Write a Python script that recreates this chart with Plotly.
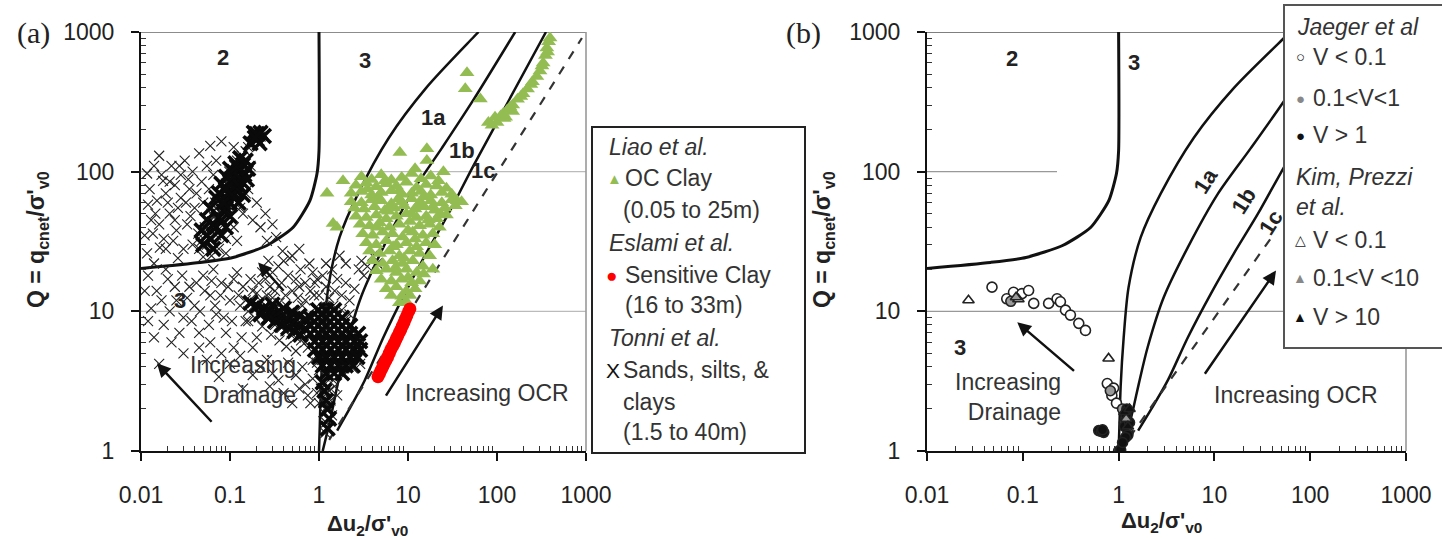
import math
import plotly.graph_objects as go

W, H = 1442, 539
FONT = "Liberation Sans, Arial, sans-serif"

# ---------------- axis ticks ----------------
X_TICK_TEXT = ["0.01", "0.1", "1", "10", "100", "1000"]
Y_TICK_TEXT = ["1", "10", "100", "1000"]

# ---------------- zone boundaries (du2/s'v0 , Q) ----------------
ZONE23_DU = [0.01, 0.046, 0.108, 0.26, 0.51, 0.79, 0.95, 1.0, 1.0]
ZONE23_Q = [20.3, 22.4, 24.3, 29.6, 39.8, 62, 97, 141, 1000]
C1A_DU = [1.0, 1.02, 1.05, 1.13, 1.27, 1.7, 2.75, 6.1, 16, 53.4, 62]
C1A_Q = [1.0, 1.5, 2.87, 6.5, 14.8, 33.8, 69.6, 175, 398, 906, 1000]
C1B_DU = [1.1, 1.25, 1.42, 1.62, 2.01, 2.96, 5.28, 10.9, 24.1, 53.4, 160]
C1B_Q = [1.0, 1.4, 2.0, 3.0, 5.53, 12.6, 28.7, 69.6, 148, 321, 1000]
C1C_DU = [1.6, 2.16, 3.26, 5.28, 9.2, 16, 28.5, 55, 355]
C1C_Q = [1.4, 1.96, 3.2, 6.5, 13.4, 26, 50, 112, 1000]
DASH_A_DU = [1.3, 900]
DASH_A_Q = [1.2, 906]
DASH_B_DU = [1.3, 42]
DASH_B_Q = [1.25, 36]

# ---------------- panel (a) data ----------------
LIAO_CLOUD = [
    (3.0, 92), (3.9, 88), (5.0, 95), (6.5, 87), (8.5, 91), (11, 97), (14, 89), (18, 93), (22, 86),
    (2.6, 80), (3.4, 83), (4.4, 78), (5.7, 82), (7.4, 79), (9.6, 84), (12.5, 77), (16, 81), (21, 79), (27, 76),
    (2.3, 70), (3.0, 72), (3.9, 68), (5.0, 71), (6.5, 73), (8.5, 69), (11, 70), (14, 72), (18, 68), (24, 71), (31, 69),
    (2.3, 61), (3.0, 60), (3.9, 63), (5.0, 62), (6.5, 59), (8.5, 61), (11, 64), (14, 60), (18, 62), (24, 60), (31, 63), (40, 61),
    (2.5, 55), (3.2, 54), (4.2, 56), (5.5, 53), (7, 55), (9, 57), (12, 54), (15, 56), (20, 53), (26, 55), (34, 57),
    (2.6, 48), (3.4, 47), (4.4, 49), (5.7, 46), (7.4, 48), (9.6, 50), (12.5, 47), (16, 48), (21, 46), (27, 49),
    (2.9, 42), (3.7, 41), (4.8, 43), (6.2, 40), (8, 42), (10.5, 44), (13.5, 41), (17.5, 42), (22.5, 40),
    (3.1, 36), (4.0, 35), (5.2, 37), (6.7, 36), (8.7, 34), (11.3, 37), (14.7, 35), (19, 36),
    (3.4, 31), (4.4, 30), (5.7, 32), (7.4, 30), (9.6, 31), (12.5, 29), (16, 31), (20, 30),
    (3.7, 27), (4.8, 26), (6.2, 27), (8, 25), (10.5, 27), (13.5, 26), (17.5, 25),
    (4.0, 23), (5.2, 22), (6.7, 23), (8.7, 22), (11.3, 23), (14.7, 21),
    (4.4, 19.5), (5.7, 20), (7.4, 19), (9.6, 20), (12.5, 19), (15, 18.5), (19, 20),
    (5.0, 17), (6.5, 16.5), (8.5, 17), (11, 16), (13.5, 16.5),
    (5.7, 14.5), (7.4, 15), (9.6, 14), (12, 14.5),
    (6.5, 13), (8.5, 12.8), (10.5, 13), (8, 11.5), (9.5, 11.8),
    (3.5, 75), (4.6, 66), (6.0, 52), (7.8, 64), (10, 38), (13, 58), (17, 45), (12, 33), (9, 24), (6.8, 29),
    (4.5, 40), (5.5, 86), (8, 73), (11, 50), (15, 66), (19, 56), (23, 50), (7.2, 20.5), (10, 17.5),
]
LIAO_SCATTER = [
    (8.1, 137), (16.3, 146), (16.3, 120), (46, 510), (44, 392), (65, 332), (1.86, 86), (1.23, 70),
    (1.44, 42.5), (1.59, 40), (35.6, 62), (25, 100), (12, 105),
]
LIAO_BAND = [
    (80, 225), (88, 215), (95, 245), (100, 225), (110, 250), (117, 260), (120, 240), (125, 245), (130, 275),
    (140, 290), (150, 270), (150, 300), (170, 330), (185, 345), (196, 361), (220, 390), (240, 420), (250, 440),
    (280, 480), (304, 526), (320, 570), (330, 600), (350, 680), (363, 769), (370, 720), (380, 850), (394, 906),
]
ESLAMI = [
    (4.6, 3.4), (4.8, 3.6), (5.0, 3.8), (5.2, 4.0), (5.4, 4.2), (5.65, 4.45), (5.9, 4.7), (6.15, 5.0),
    (6.4, 5.3), (6.7, 5.6), (7.0, 5.9), (7.3, 6.25), (7.6, 6.6), (7.95, 7.0), (8.3, 7.4), (8.65, 7.85),
    (9.0, 8.3), (9.35, 8.8), (9.7, 9.3), (10.1, 9.9), (10.5, 10.4),
]
TONNI_ZONE2 = [
    (0.0117, 97), (0.0151, 62), (0.0177, 86), (0.031, 120), (0.06, 153), (0.021, 50), (0.0136, 36),
    (0.0163, 28.6), (0.0117, 26), (0.013, 45), (0.019, 70), (0.025, 38), (0.028, 95), (0.035, 75),
    (0.022, 110), (0.04, 55), (0.033, 42), (0.045, 135), (0.08, 165), (0.11, 150), (0.026, 24),
    (0.038, 30), (0.05, 24.5), (0.15, 140), (0.17, 110), (0.16, 75), (0.2, 60), (0.26, 32), (0.39, 27),
    (0.47, 24), (0.3, 42), (0.22, 40), (0.014, 22), (0.012, 58), (0.018, 33), (0.028, 65), (0.016, 130),
    (0.024, 80),
    (0.011, 35), (0.0125, 75), (0.014, 110), (0.0145, 50), (0.016, 42), (0.017, 95), (0.019, 28),
    (0.02, 60), (0.021, 85), (0.023, 32), (0.024, 45), (0.026, 55), (0.027, 110), (0.03, 28), (0.032, 60),
    (0.034, 88), (0.036, 48), (0.038, 100), (0.042, 70), (0.044, 36), (0.048, 85), (0.05, 60), (0.055, 110),
    (0.058, 75), (0.065, 95), (0.07, 120), (0.062, 25), (0.075, 28), (0.14, 50), (0.18, 45), (0.25, 50),
    (0.33, 34), (0.12, 32), (0.09, 26),
]
TONNI_STREAK = [
    (0.045, 28), (0.048, 32), (0.05, 36), (0.055, 30), (0.052, 40), (0.058, 44), (0.06, 38), (0.062, 50),
    (0.066, 47), (0.07, 55), (0.068, 60), (0.075, 52), (0.078, 64), (0.08, 70), (0.085, 58), (0.088, 75),
    (0.09, 82), (0.095, 68), (0.1, 90), (0.098, 100), (0.105, 85), (0.11, 95), (0.112, 110), (0.118, 105),
    (0.12, 120), (0.125, 92), (0.13, 115), (0.115, 78), (0.14, 100), (0.135, 130), (0.17, 165), (0.18, 180),
    (0.19, 172), (0.2, 185), (0.21, 195), (0.19, 195), (0.22, 178), (0.23, 190), (0.175, 155), (0.16, 150),
    (0.07, 35), (0.085, 42), (0.1, 48), (0.12, 60), (0.15, 70), (0.13, 55), (0.09, 33), (0.11, 40),
]
TONNI_LOW = [
    (0.012, 18), (0.015, 14), (0.02, 17), (0.013, 10.5), (0.018, 8), (0.025, 12), (0.03, 9), (0.022, 6),
    (0.035, 15), (0.04, 11), (0.045, 7), (0.03, 5), (0.05, 18), (0.06, 13), (0.07, 9.5), (0.055, 4.5),
    (0.08, 16), (0.09, 7), (0.1, 12), (0.065, 20), (0.12, 19), (0.14, 15), (0.16, 8.5), (0.11, 5.5),
    (0.2, 6.5), (0.25, 17), (0.3, 19), (0.22, 4), (0.35, 3.2), (0.4, 2.6), (0.5, 2.2), (0.55, 3.5),
    (0.6, 2.8), (0.45, 4.3), (0.28, 2.9), (0.016, 4.2), (0.075, 3.4), (0.14, 2.8),
    (0.011, 14), (0.012, 8.5), (0.014, 6.5), (0.017, 12), (0.019, 20), (0.021, 10), (0.024, 15), (0.027, 7),
    (0.029, 18), (0.033, 12.5), (0.037, 8.5), (0.042, 16), (0.046, 10), (0.052, 14), (0.058, 8),
    (0.062, 16.5), (0.068, 11), (0.078, 13), (0.085, 9), (0.095, 15), (0.105, 8.5), (0.11, 17), (0.125, 13),
    (0.135, 6.5), (0.17, 17), (0.18, 14), (0.21, 16), (0.23, 19), (0.28, 15), (0.32, 14), (0.38, 16),
    (0.42, 13), (0.5, 14), (0.58, 12.5), (0.045, 5.5), (0.06, 6), (0.08, 5), (0.1, 4.2), (0.13, 4.8),
    (0.18, 5.5), (0.26, 4.5), (0.3, 3.6), (0.18, 3.5), (0.65, 4), (0.7, 3), (0.75, 2.5), (0.8, 2.2),
    (0.35, 21), (0.45, 18), (0.55, 17), (0.62, 20), (0.7, 16), (0.78, 22), (0.5, 25), (0.4, 23),
    (0.27, 23), (0.6, 28), (0.88, 13), (0.95, 17),
]
TONNI_BAND = [
    (0.13, 11), (0.15, 12), (0.16, 10), (0.18, 11.5), (0.2, 10.5), (0.19, 9), (0.22, 12), (0.24, 9.8),
    (0.25, 11), (0.27, 8.7), (0.28, 10), (0.3, 9.3), (0.32, 8), (0.33, 10.5), (0.35, 8.8), (0.38, 7.6),
    (0.4, 9), (0.42, 7.2), (0.45, 8.3), (0.48, 6.8), (0.5, 7.7), (0.52, 9.2), (0.55, 6.5), (0.58, 7.5),
    (0.6, 8.4), (0.63, 6.2), (0.66, 7), (0.7, 6), (0.2, 13.5), (0.26, 13), (0.3, 12.5), (0.36, 11.5),
    (0.44, 10.8), (0.5, 10.2), (0.23, 7.8), (0.29, 6.8), (0.36, 6.2), (0.43, 5.6), (0.15, 8.5), (0.55, 5.2),
]
TONNI_CORE = [
    (0.75, 5.5), (0.8, 7), (0.85, 4.5), (0.9, 6), (0.95, 8), (1.0, 5), (1.0, 3.8), (1.05, 6.8), (1.1, 4.2),
    (1.1, 9), (1.15, 5.8), (1.2, 7.5), (1.25, 3.5), (1.3, 4.8), (1.3, 6.3), (1.35, 8.5), (1.4, 5.4),
    (1.45, 3.2), (1.5, 7), (1.5, 4.3), (1.6, 6), (1.6, 9.5), (1.65, 3.8), (1.7, 5.2), (1.75, 7.8),
    (1.8, 4.6), (1.85, 6.5), (1.9, 3.5), (2.0, 5.8), (2.0, 8.5), (2.1, 4.2), (2.2, 6.8), (2.3, 5.3),
    (2.4, 3.9), (2.5, 6.2), (2.6, 4.8), (2.8, 5.6), (0.9, 10.5), (1.2, 10.8), (1.45, 11), (0.85, 3.3),
    (1.15, 3), (2.2, 9.5), (1.8, 10.2), (0.95, 4.3), (2.9, 4.2),
]
TONNI_TAIL = [
    (1.05, 2.8), (1.1, 2.3), (1.15, 2.6), (1.12, 1.9), (1.2, 1.6), (1.25, 2.1), (1.3, 2.7), (1.18, 1.35),
    (1.35, 2.3), (1.4, 1.8), (1.5, 2.9), (1.6, 2.5), (1.0, 2.2), (0.95, 2.6),
]
TONNI_UPPER = [
    (0.7, 12), (0.8, 14), (0.9, 16), (1.0, 13), (1.1, 18), (1.2, 15), (1.3, 12.5), (1.4, 20), (1.5, 14),
    (1.6, 17), (1.8, 13), (2.0, 16), (2.2, 12), (2.5, 14.5), (2.8, 20), (3.0, 23), (3.5, 21), (4.0, 25),
    (4.5, 22), (3.2, 18), (2.0, 22), (1.7, 25), (1.2, 22), (0.85, 19), (0.6, 15), (0.65, 11),
]
TONNI_DENSE = [
    (0.98, 10.2), (1.2, 10.2), (1.48, 10.2),
    (0.8, 9.0), (0.98, 9.0), (1.2, 9.0), (1.48, 9.0), (1.82, 9.0),
    (0.8, 7.9), (0.98, 7.9), (1.2, 7.9), (1.48, 7.9), (1.82, 7.9), (2.24, 7.9),
    (0.8, 6.9), (0.98, 6.9), (1.2, 6.9), (1.48, 6.9), (1.82, 6.9), (2.24, 6.9), (2.75, 6.9),
    (0.9, 6.1), (1.1, 6.1), (1.35, 6.1), (1.65, 6.1), (2.0, 6.1), (2.5, 6.1), (2.9, 6.1),
    (0.9, 5.3), (1.1, 5.3), (1.35, 5.3), (1.65, 5.3), (2.0, 5.3), (2.5, 5.3), (2.9, 5.3),
    (1.0, 4.7), (1.2, 4.7), (1.48, 4.7), (1.82, 4.7), (2.24, 4.7), (2.7, 4.7),
    (1.1, 4.1), (1.35, 4.1), (1.65, 4.1), (2.0, 4.1), (2.4, 4.1),
    (1.2, 3.6), (1.48, 3.6), (1.82, 3.6),
    (1.1, 3.1), (1.15, 2.7), (1.2, 2.3), (1.25, 2.0), (1.3, 1.7), (1.25, 1.45),
    (0.17, 11.5), (0.2, 11), (0.24, 10.5), (0.28, 10), (0.33, 9.6), (0.38, 9.2), (0.45, 8.7), (0.52, 8.3),
    (0.6, 7.9), (0.7, 7.5), (0.22, 9.5), (0.27, 9), (0.32, 8.5), (0.38, 8), (0.45, 7.6), (0.53, 7.2),
    (0.62, 6.8), (0.3, 11.2), (0.4, 10.5), (0.5, 9.8), (0.6, 9.3), (0.7, 8.8),
    (0.05, 30), (0.055, 35), (0.06, 33), (0.065, 42), (0.07, 40), (0.075, 47), (0.08, 45), (0.085, 52),
    (0.09, 55), (0.095, 62), (0.1, 60), (0.105, 72), (0.11, 70), (0.115, 80), (0.12, 88), (0.125, 100),
    (0.13, 105), (0.14, 112), (0.115, 115), (0.1, 105), (0.09, 92), (0.08, 82), (0.075, 70), (0.07, 65),
    (0.135, 85), (0.145, 95), (0.1, 85), (0.11, 100), (0.095, 70), (0.085, 60), (0.12, 110),
    (0.06, 55), (0.065, 28), (0.055, 45), (0.048, 38), (0.08, 35), (0.09, 40), (0.1, 48), (0.12, 72),
    (0.13, 78), (0.14, 68), (0.125, 60), (0.155, 88), (0.16, 105), (0.15, 120), (0.13, 125), (0.09, 75),
    (0.17, 160), (0.2, 170), (0.22, 190), (0.185, 190), (0.215, 160), (0.24, 180), (0.2, 185), (0.19, 175),
]

# ---------------- panel (b) data ----------------
JAEGER_LOW = [
    (0.0477, 14.9), (0.068, 12.3), (0.080, 13.7), (0.098, 13.4), (0.115, 14.1), (0.130, 11.4),
    (0.186, 11.4), (0.228, 12.3), (0.247, 11.7), (0.279, 10.2), (0.314, 9.4), (0.384, 8.2),
    (0.451, 7.3), (0.762, 3.04), (0.887, 2.82), (0.85, 2.5), (0.95, 2.2),
]
JAEGER_MID = [(0.075, 11.8), (0.82, 2.7), (1.15, 1.6), (1.25, 1.35), (1.1, 2.0)]
JAEGER_HIGH = [
    (0.62, 1.4), (0.66, 1.38), (0.7, 1.36), (0.68, 1.42), (1.0, 1.0), (1.05, 1.02), (1.15, 1.5),
    (1.2, 1.8), (1.25, 1.3), (1.3, 1.6), (1.18, 1.25), (1.1, 1.15), (1.22, 2.0),
]
KIM_LOW = [(0.0271, 12), (0.786, 4.6), (0.09, 12.2)]
KIM_MID = [(0.085, 12.6), (1.2, 1.7)]
KIM_HIGH = [(1.15, 1.9), (1.25, 1.5), (1.3, 2.0)]


def xs(pts):
    return [p[0] for p in pts]


def ys(pts):
    return [p[1] for p in pts]


def L(v):
    return math.log10(v)


fig = go.Figure()

# ---------- boundaries in both panels ----------
for xa, ya in (("x", "y"), ("x2", "y2")):
    fig.add_trace(go.Scatter(x=ZONE23_DU, y=ZONE23_Q, mode="lines", xaxis=xa, yaxis=ya,
                             line=dict(color="#111", width=3, shape="spline", smoothing=0.6)))
    for cx, cy in ((C1A_DU, C1A_Q), (C1B_DU, C1B_Q), (C1C_DU, C1C_Q)):
        fig.add_trace(go.Scatter(x=cx, y=cy, mode="lines", xaxis=xa, yaxis=ya,
                                 line=dict(color="#111", width=2.5, shape="spline", smoothing=0.8)))
fig.add_trace(go.Scatter(x=DASH_A_DU, y=DASH_A_Q, mode="lines", xaxis="x", yaxis="y",
                         line=dict(color="#333", width=2.2, dash="dash")))
fig.add_trace(go.Scatter(x=DASH_B_DU, y=DASH_B_Q, mode="lines", xaxis="x2", yaxis="y2",
                         line=dict(color="#333", width=2.2, dash="dash")))

# ---------- panel (a) scatter ----------
tonni_all = TONNI_ZONE2 + TONNI_STREAK + TONNI_LOW + TONNI_BAND + TONNI_CORE + TONNI_TAIL + TONNI_UPPER
fig.add_trace(go.Scatter(x=xs(tonni_all), y=ys(tonni_all), mode="markers", xaxis="x", yaxis="y",
                         marker=dict(symbol="x-thin", size=10, line=dict(width=1.1, color="#222"))))
fig.add_trace(go.Scatter(x=xs(TONNI_DENSE), y=ys(TONNI_DENSE), mode="markers", xaxis="x", yaxis="y",
                         marker=dict(symbol="x-thin", size=14, line=dict(width=3.6, color="#0a0a0a"))))
liao_all = LIAO_CLOUD + LIAO_SCATTER + LIAO_BAND
fig.add_trace(go.Scatter(x=xs(liao_all), y=ys(liao_all), mode="markers", xaxis="x", yaxis="y",
                         marker=dict(symbol="triangle-up", size=13, color="#93BD52")))
fig.add_trace(go.Scatter(x=xs(ESLAMI), y=ys(ESLAMI), mode="markers", xaxis="x", yaxis="y",
                         marker=dict(symbol="circle", size=13, color="#FF0000")))

# ---------- panel (b) scatter ----------
def add_b(pts, symbol, fill, size=10):
    fig.add_trace(go.Scatter(x=xs(pts), y=ys(pts), mode="markers", xaxis="x2", yaxis="y2",
                             marker=dict(symbol=symbol, size=size, color=fill,
                                         line=dict(width=1.6, color="#222"))))

add_b(JAEGER_LOW, "circle", "white")
add_b(JAEGER_MID, "circle", "#999")
add_b(JAEGER_HIGH, "circle", "#111")
add_b(KIM_LOW, "triangle-up", "white")
add_b(KIM_MID, "triangle-up", "#999")
add_b(KIM_HIGH, "triangle-up", "#111")

# ---------- axes ----------
def xaxis(domain, anchor):
    return dict(type="log", range=[-2, 3], domain=domain, anchor=anchor, automargin=False,
                tickmode="array", tickvals=[0.01, 0.1, 1, 10, 100, 1000], ticktext=X_TICK_TEXT,
                ticks="outside", ticklen=8, tickwidth=2, tickcolor="#111",
                showline=True, linecolor="#111", linewidth=2, showgrid=False, zeroline=False,
                ticklabelstandoff=14, tickfont=dict(family=FONT, size=23, color="#222"),
                minor=dict(ticks="inside", ticklen=5, tickwidth=1, tickcolor="#333", showgrid=False,
                           tickvals=[m * 10 ** e for e in range(-2, 3) for m in range(2, 10)]))


def yaxis(domain, anchor):
    return dict(type="log", range=[0, 3], domain=domain, anchor=anchor, automargin=False,
                tickmode="array", tickvals=[1, 10, 100, 1000], ticktext=Y_TICK_TEXT,
                ticks="outside", ticklen=8, tickwidth=2, tickcolor="#111",
                showline=True, linecolor="#111", linewidth=2, showgrid=False, zeroline=False,
                ticklabelstandoff=12, tickfont=dict(family=FONT, size=23, color="#222"),
                minor=dict(ticks="inside", ticklen=5, tickwidth=1, tickcolor="#333", showgrid=False,
                           tickvals=[m * 10 ** e for e in range(0, 3) for m in range(2, 10)]))


YDOM = [1 - 451 / H, 1 - 32 / H]
fig.update_layout(
    width=W, height=H, margin=dict(l=0, r=0, t=0, b=0, autoexpand=False),
    paper_bgcolor="white", plot_bgcolor="white", showlegend=False,
    font=dict(family=FONT, size=23, color="#222"),
    xaxis=xaxis([141 / W, 586 / W], "y"),
    yaxis=yaxis(YDOM, "x"),
    xaxis2=xaxis([927 / W, 1406 / W], "y2"),
    yaxis2=yaxis(YDOM, "x2"),
)

# ---------- frame / grid shapes ----------
shapes = []
def hline(xr, yr, yv, x0, x1, color, width):
    shapes.append(dict(type="line", xref=xr + " domain", yref=yr, x0=x0, x1=x1, y0=yv, y1=yv,
                       line=dict(color=color, width=width), layer="below"))

hline("x", "y", 10, 0, 1, "#bbb", 1.2)
hline("x", "y", 100, 0, 1, "#bbb", 1.2)
hline("x", "y", 1000, 0, 1, "#666", 1.6)
hline("x2", "y2", 10, 0, 1, "#999", 1.2)
hline("x2", "y2", 100, 0, (1057 - 927) / 479, "#999", 1.2)
hline("x2", "y2", 1000, 0, 1, "#555", 1.6)
shapes.append(dict(type="line", xref="x domain", yref="y", x0=1, x1=1, y0=1, y1=1000,
                   line=dict(color="#999", width=1.6), layer="below"))
shapes.append(dict(type="line", xref="x2 domain", yref="y2", x0=1, x1=1, y0=1, y1=5.4,
                   line=dict(color="#999", width=1.6), layer="below"))


def px(v):
    return v / W


def py(v):
    return 1 - v / H

# legend boxes
shapes.append(dict(type="rect", xref="paper", yref="paper", x0=px(592), x1=px(805), y0=py(453), y1=py(127),
                   line=dict(color="#222", width=2), fillcolor="white", layer="above"))
shapes.append(dict(type="rect", xref="paper", yref="paper", x0=px(1284), x1=px(1460), y0=py(348), y1=py(5),
                   line=dict(color="#555", width=2), fillcolor="white", layer="above"))
fig.update_layout(shapes=shapes)

# ---------- annotations ----------
ann = []


def text_d(xr, yr, xv, yv, t, size=22, bold=True, angle=0, anchor="center", color="#222"):
    ann.append(dict(xref=xr, yref=yr, x=L(xv), y=L(yv), text=("<b>%s</b>" % t) if bold else t,
                    showarrow=False, textangle=angle, xanchor=anchor, yanchor="middle",
                    font=dict(family=FONT, size=size, color=color)))


def arrow(xr, yr, tail, head):
    ann.append(dict(xref=xr, yref=yr, axref=xr, ayref=yr, x=L(head[0]), y=L(head[1]),
                    ax=L(tail[0]), ay=L(tail[1]), text="", showarrow=True, arrowhead=2,
                    arrowsize=1.1, arrowwidth=2.5, arrowcolor="#111"))


def text_p(x, y, t, size=23, anchor="left", color="#333", angle=0, family=FONT):
    ann.append(dict(xref="paper", yref="paper", x=px(x), y=py(y), text=t, showarrow=False,
                    xanchor=anchor, yanchor="middle", textangle=angle,
                    font=dict(family=family, size=size, color=color)))

# panel (a) labels
text_d("x", "y", 0.083, 652, "2")
text_d("x", "y", 3.29, 621, "3")
text_d("x", "y", 0.0274, 12, "3")
text_d("x", "y", 19.1, 243, "1a")
text_d("x", "y", 40.5, 141, "1b")
text_d("x", "y", 70, 102, "1c")
arrow("x", "y", (0.0644, 1.58), (0.0151, 4.25))
arrow("x", "y", (0.415, 13.7), (0.207, 22.4))
arrow("x", "y", (5.52, 2.43), (24.7, 11))
ann.append(dict(xref="x", yref="y", x=-0.236, y=0.507, text="Increasing<br>Drainage", showarrow=False,
                xanchor="right", yanchor="middle", align="right", font=dict(family=FONT, size=23, color="#333")))
ann.append(dict(xref="x", yref="y", x=1.888, y=0.414, text="Increasing OCR", showarrow=False,
                xanchor="center", yanchor="middle", font=dict(family=FONT, size=23, color="#333")))

# panel (b) labels
text_d("x2", "y2", 0.078, 641, "2")
text_d("x2", "y2", 1.44, 601, "3")
text_d("x2", "y2", 0.022, 5.5, "3")
text_d("x2", "y2", 8.15, 86, "1a", angle=-58)
text_d("x2", "y2", 20.4, 62, "1b", angle=-58)
text_d("x2", "y2", 39, 43, "1c", angle=-58)
arrow("x2", "y2", (0.355, 3.67), (0.0875, 8.35))
arrow("x2", "y2", (7.76, 3.49), (44, 19.6))
ann.append(dict(xref="x2", yref="y2", x=-0.576, y=0.386, text="Increasing<br>Drainage", showarrow=False,
                xanchor="right", yanchor="middle", align="right", font=dict(family=FONT, size=23, color="#333")))
ann.append(dict(xref="x2", yref="y2", x=1.853, y=0.4, text="Increasing OCR", showarrow=False,
                xanchor="center", yanchor="middle", font=dict(family=FONT, size=23, color="#333")))

# panel letters
text_p(33, 33, "(a)", size=30, anchor="center", color="#222", family="Liberation Serif, Times New Roman, serif")
text_p(803, 33, "(b)", size=30, anchor="center", color="#222", family="Liberation Serif, Times New Roman, serif")

# axis titles
YT = "<b>Q = q<sub>cnet</sub>/σ'<sub>v0</sub></b>"
XT = "<b>Δu<sub>2</sub>/σ'<sub>v0</sub></b>"
text_p(37, 240, YT, size=23, anchor="center", color="#222", angle=-90)
text_p(823, 240, YT, size=23, anchor="center", color="#222", angle=-90)
text_p(367, 525, XT, size=22, anchor="center", color="#222")
text_p(1161, 522, XT, size=22, anchor="center", color="#222")

# legend (a)
text_p(607, 147, "<i>Liao et al.</i>")
text_p(614, 178, "▲", size=15, anchor="center", color="#93BD52")
text_p(623, 178, "OC Clay")
text_p(621, 210, "(0.05 to 25m)")
text_p(607, 243, "<i>Eslami et al.</i>")
text_p(611, 275, "●", size=19, anchor="center", color="#FF0000")
text_p(623, 275, "Sensitive Clay")
text_p(623, 305, "(16 to 33m)")
text_p(607, 338, "<i>Tonni et al.</i>")
text_p(613, 370, "X", size=21, anchor="center", color="#111")
text_p(621, 370, "Sands, silts, &")
text_p(621, 402, "clays")
text_p(621, 432, "(1.5 to 40m)")

# legend (b)
text_p(1295, 27, "<i>Jaeger et al</i>")
text_p(1300, 57, "○", size=15, anchor="center", color="#222")
text_p(1311, 57, "V < 0.1")
text_p(1300, 98, "●", size=15, anchor="center", color="#888")
text_p(1311, 98, "0.1<V<1")
text_p(1300, 135, "●", size=15, anchor="center", color="#111")
text_p(1311, 135, "V > 1")
text_p(1294, 177, "<i>Kim, Prezzi</i>")
text_p(1294, 207, "<i>et al.</i>")
text_p(1300, 240, "△", size=14, anchor="center", color="#222")
text_p(1311, 240, "V < 0.1")
text_p(1300, 278, "▲", size=14, anchor="center", color="#888")
text_p(1311, 278, "0.1<V <10")
text_p(1300, 317, "▲", size=14, anchor="center", color="#111")
text_p(1311, 317, "V > 10")

fig.update_layout(annotations=ann)

fig.write_html("out.html", config={"displayModeBar": False},
               post_script="document.body.style.margin='0px';")
